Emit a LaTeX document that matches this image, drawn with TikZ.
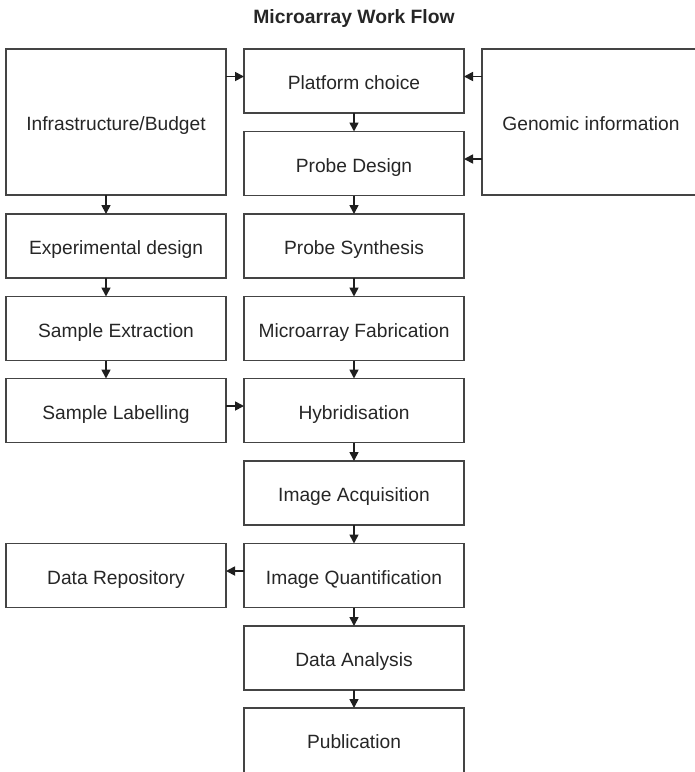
\documentclass[tikz,border=0pt]{standalone}
\usepackage{fontspec}
\setmainfont{Liberation Sans}
\usetikzlibrary{arrows.meta}
\definecolor{linec}{HTML}{444444}
\definecolor{textc}{HTML}{262626}
\tikzset{
  box/.style={draw=linec, line width=1.4pt, minimum width=220pt, minimum height=64pt,
    inner sep=0pt, outer sep=0pt, text=textc, text height=17.4pt, text depth=0pt,
    font=\fontsize{19.2}{23}\selectfont},
  arr/.style={draw=black!88, line width=1.7pt, -{Triangle[length=9pt,width=9pt]}}
}
\begin{document}
\begin{tikzpicture}[x=1pt,y=-1pt]
\useasboundingbox (0,0) rectangle (695,772);
\node[font=\fontsize{19.3}{23}\selectfont\bfseries, text=textc] (title) at (354,19) {Microarray Work Flow};
% left column
\node[box, minimum height=146pt] (infra) at (116,122) {Infrastructure/Budget};
\node[box] (exp) at (116,246) {Experimental design};
\node[box] (extr) at (116,328.5) {Sample Extraction};
\node[box] (lab) at (116,410.5) {Sample Labelling};
\node[box] (repo) at (116,575.5) {Data Repository};
% middle column
\node[box] (plat) at (354,81) {Platform choice};
\node[box] (pdes) at (354,163.5) {Probe Design};
\node[box] (psyn) at (354,246) {Probe Synthesis};
\node[box] (fab) at (354,328.5) {Microarray Fabrication};
\node[box] (hyb) at (354,410.5) {Hybridisation};
\node[box] (acq) at (354,493) {Image Acquisition};
\node[box] (quant) at (354,575.5) {Image Quantification};
\node[box] (anal) at (354,658) {Data Analysis};
\node[box, minimum height=68pt, text height=13.4pt] (pub) at (354,742) {Publication};
% right column
\node[box, minimum width=218pt, minimum height=146pt] (gen) at (591,122) {Genomic information};
% horizontal connectors
\coordinate (a1) at ([yshift=4.5pt]plat.west);
\coordinate (a2) at ([yshift=4.5pt]plat.east);
\coordinate (a3) at ([yshift=4.5pt]pdes.east);
\coordinate (a4) at ([yshift=4.5pt]hyb.west);
\coordinate (a5) at ([yshift=4.5pt]repo.east);
\draw[arr] (infra.east |- a1) -- (a1);
\draw[arr] (gen.west |- a2) -- (a2);
\draw[arr] (gen.west |- a3) -- (a3);
\draw[arr] (lab.east |- a4) -- (a4);
\draw[arr] (quant.west |- a5) -- (a5);
% left vertical connectors
\draw[arr] ([xshift=-10pt]infra.south) -- ([xshift=-10pt]exp.north);
\draw[arr] ([xshift=-10pt]exp.south) -- ([xshift=-10pt]extr.north);
\draw[arr] ([xshift=-10pt]extr.south) -- ([xshift=-10pt]lab.north);
% middle vertical connectors
\draw[arr] (plat) -- (pdes);
\draw[arr] (pdes) -- (psyn);
\draw[arr] (psyn) -- (fab);
\draw[arr] (fab) -- (hyb);
\draw[arr] (hyb) -- (acq);
\draw[arr] (acq) -- (quant);
\draw[arr] (quant) -- (anal);
\draw[arr] (anal) -- (pub);
\end{tikzpicture}
\end{document}
